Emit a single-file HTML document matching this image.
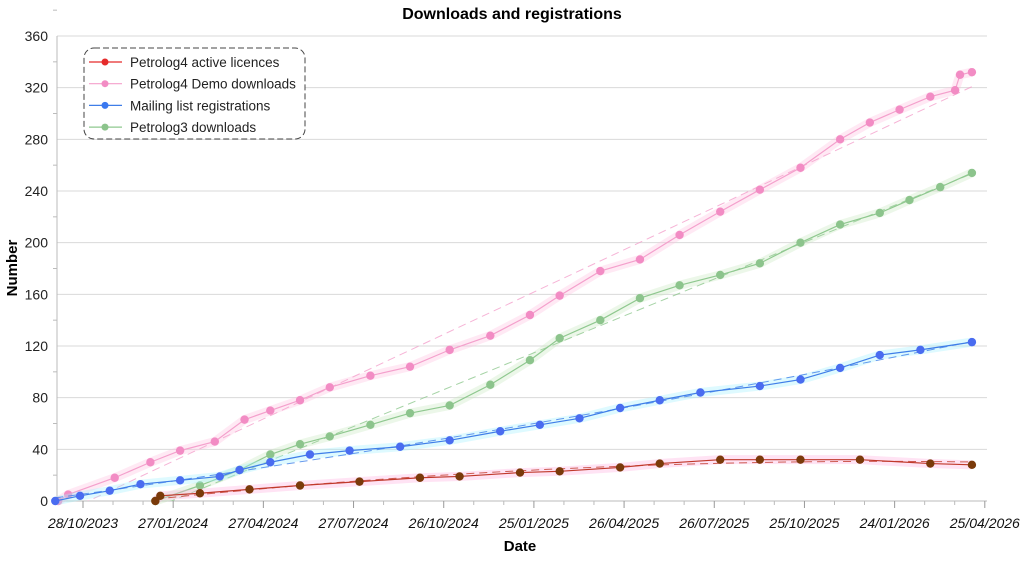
<!DOCTYPE html>
<html><head><meta charset="utf-8"><style>
body{margin:0;background:#fff;font-family:"Liberation Sans",sans-serif}
svg text{font-family:"Liberation Sans",sans-serif}
</style></head><body>
<svg id="chart" width="1024" height="557" xmlns="http://www.w3.org/2000/svg">
<defs><clipPath id="plotclip"><rect x="57" y="30" width="935" height="471"/></clipPath></defs>
<text x="512" y="19" text-anchor="middle" font-size="16" font-weight="bold">Downloads and registrations</text>
<text transform="translate(17,268) rotate(-90)" text-anchor="middle" font-size="15" font-weight="bold">Number</text>
<text x="520" y="551" text-anchor="middle" font-size="15" font-weight="bold">Date</text>
<g id="grid"></g><g id="axes"></g><g id="series"></g>
<g>
<rect x="84" y="48" width="221" height="91" rx="10" fill="#fff" stroke="#444" stroke-dasharray="6,3"/>
<g id="legend"></g>
</g>
</svg>
<script>
const yTicks=[0,40,80,120,160,200,240,280,320,360];
const xTickLabels=["28/10/2023","27/01/2024","27/04/2024","27/07/2024","26/10/2024","25/01/2025","26/04/2025","26/07/2025","25/10/2025","24/01/2026","25/04/2026"];
const seriesNames=["Petrolog4 active licences","Petrolog4 Demo downloads","Mailing list registrations","Petrolog3 downloads"];
const demoDays=[-25,-15,32,68,98,133,163,189,219,249,290,330,370,411,451,481,522,562,602,643,683,724,764,794,824,855,880,885,897];
const demoVals=[0,5,18,30,39,46,63,70,78,88,97,104,117,128,144,159,178,187,206,224,241,258,280,293,303,313,318,330,332];
const p3Days=[73,118,158,189,219,249,290,330,370,411,451,481,522,562,602,643,683,724,764,804,834,865,897];
const p3Vals=[0,12,24,36,44,50,59,68,74,90,109,126,140,157,167,175,184,200,214,223,233,243,254];
const mailDays=[-28,-3,27,58,98,138,158,189,229,269,320,370,421,461,501,542,582,623,683,724,764,804,845,897];
const mailVals=[0,4,8,13,16,19,24,30,36,39,42,47,54,59,64,72,78,84,89,94,103,113,117,123];
const licDays=[73,78,118,168,219,279,340,380,441,481,542,582,643,683,724,784,855,897];
const licVals=[0,4,6,9,12,15,18,19,22,23,26,29,32,32,32,32,29,28];

const L=57,R=987,T=36,B=501;
const X=d=>83+d*0.991;
const Y=v=>B-(v/360)*(B-T);
const NS="http://www.w3.org/2000/svg";
function mk(tag,attrs,parent){const e=document.createElementNS(NS,tag);for(const k in attrs)e.setAttribute(k,attrs[k]);parent.appendChild(e);return e;}
const grid=document.getElementById('grid'),axes=document.getElementById('axes'),ser=document.getElementById('series'),leg=document.getElementById('legend');
yTicks.forEach(v=>{
 if(v>0){const g=mk('line',{x1:L,x2:R,y1:Y(v),y2:Y(v),stroke:'#d9d9d9','stroke-width':1},grid);
 
 }
 const t=mk('text',{x:48,y:Y(v)+5,'text-anchor':'end','font-size':14,fill:'#222'},axes);t.textContent=v;
 
 
 mk('line',{x1:L-4,x2:L,y1:Y(v+20),y2:Y(v+20),stroke:'#bbb'},axes);
});
mk('line',{x1:L,x2:L,y1:T,y2:B,stroke:'#bbb'},axes);
mk('line',{x1:L,x2:R,y1:B,y2:B,stroke:'#bbb'},axes);
xTickLabels.forEach((s,i)=>{
 const x=X(i*91);
 mk('line',{x1:x,x2:x,y1:B,y2:B+7,stroke:'#999'},axes);
 for(let k=1;k<3;k++){const xm=X(i*91+k*30.3);if(xm<R)mk('line',{x1:xm,x2:xm,y1:B,y2:B+4,stroke:'#bbb'},axes);}
 const t=mk('text',{x:x,y:528,'text-anchor':'middle','font-size':14,'font-style':'italic',fill:'#111'},axes);t.textContent=s;
 
 
});
function fit(xs,ys,deg){const n=deg+1;const A=[...Array(n)].map(()=>Array(n+1).fill(0));
 xs.forEach((x,i)=>{const s=x/1000;for(let r=0;r<n;r++){for(let c=0;c<n;c++)A[r][c]+=Math.pow(s,r+c);A[r][n]+=ys[i]*Math.pow(s,r);}});
 for(let i=0;i<n;i++){let p=i;for(let r=i+1;r<n;r++)if(Math.abs(A[r][i])>Math.abs(A[p][i]))p=r;[A[i],A[p]]=[A[p],A[i]];
 for(let r=0;r<n;r++)if(r!==i){const f=A[r][i]/A[i][i];for(let c=i;c<=n;c++)A[r][c]-=f*A[i][c];}}
 return A.map((r,i)=>r[n]/r[i]);}
function draw(name,days,vals,col,dark,glow,deg){
 const g=mk('g',{},ser);
 const pts=days.map((d,i)=>X(d)+','+Y(vals[i])).join(' ');
 mk('polyline',{points:pts,fill:'none',stroke:glow,'stroke-width':9,'stroke-opacity':0.35,'stroke-linejoin':'round'},g);
 mk('polyline',{points:pts,fill:'none',stroke:col,'stroke-width':1.2},g);
 const c=fit(days,vals,deg);const d0=days[0],d1=days[days.length-1];let tp=[];
 for(let k=0;k<=40;k++){const d=d0+(d1-d0)*k/40,s=d/1000;let v=0;c.forEach((cc,j)=>v+=cc*Math.pow(s,j));tp.push(X(d)+','+Y(v));}
 const tl=mk('polyline',{points:tp.join(' '),fill:'none',stroke:col,'stroke-width':1,'stroke-dasharray':'8,5','stroke-opacity':0.8,'clip-path':'url(#plotclip)'},g);
 
 
 days.forEach((d,i)=>{const m=mk('circle',{cx:X(d),cy:Y(vals[i]),r:4.2,fill:dark},g);
 
 });
}
draw('demo-downloads-series',demoDays,demoVals,'#f4a0cc','#f28cc4','#ffc0e0',1);
draw('petrolog3-series',p3Days,p3Vals,'#8fc88f','#8cc48c','#c8e8c0',1);
draw('mailing-list-series',mailDays,mailVals,'#3f7ee8','#4a6cf0','#a0f0ff',2);
draw('active-licences-series',licDays,licVals,'#c0392b','#7a3a0a','#ffb0e0',2);
const legCols=[['#e52b2b','#e52b2b'],['#f4a0cc','#f28cc4'],['#3f7ee8','#3a78f0'],['#8fc88f','#8cc48c']];
seriesNames.forEach((s,i)=>{const y=62+i*21.7;
 const g=mk('g',{},leg);
 mk('line',{x1:89,x2:122,y1:y,y2:y,stroke:legCols[i][0],'stroke-width':1.2},g);
 mk('circle',{cx:105,cy:y,r:3.5,fill:legCols[i][1]},g);
 const t=mk('text',{x:130,y:y+5,'font-size':13.5,fill:'#222'},g);t.textContent=s;});
</script>
</body></html>
